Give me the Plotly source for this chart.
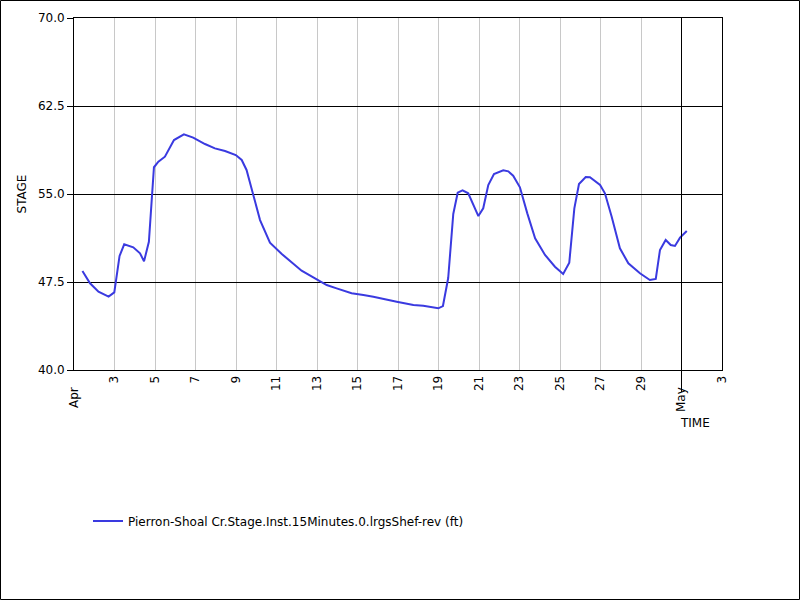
import plotly.graph_objects as go

times = [
    "2024-04-01 10:00", "2024-04-01 19:00", "2024-04-02 05:00", "2024-04-02 17:00", "2024-04-02 23:45",
    "2024-04-03 06:00", "2024-04-03 11:30", "2024-04-03 22:15", "2024-04-04 06:15", "2024-04-04 11:00",
    "2024-04-04 16:45", "2024-04-04 22:45", "2024-04-05 04:00", "2024-04-05 11:45", "2024-04-05 22:30",
    "2024-04-06 10:15", "2024-04-06 21:15", "2024-04-07 11:15", "2024-04-07 23:00", "2024-04-08 11:00",
    "2024-04-08 23:45", "2024-04-09 06:45", "2024-04-09 12:30", "2024-04-09 20:15", "2024-04-10 04:30",
    "2024-04-10 16:15", "2024-04-11 06:15", "2024-04-12 05:45", "2024-04-12 23:45", "2024-04-13 11:30",
    "2024-04-13 23:15", "2024-04-14 17:00", "2024-04-15 07:00", "2024-04-15 18:45", "2024-04-16 22:30",
    "2024-04-17 18:15", "2024-04-18 06:00", "2024-04-18 23:45", "2024-04-19 05:15", "2024-04-19 11:30",
    "2024-04-19 17:30", "2024-04-19 22:45", "2024-04-20 04:30", "2024-04-20 11:15", "2024-04-20 23:15",
    "2024-04-21 05:00", "2024-04-21 11:00", "2024-04-21 17:45", "2024-04-22 04:45", "2024-04-22 10:45",
    "2024-04-22 16:30", "2024-04-23 00:30", "2024-04-23 09:15", "2024-04-23 18:30", "2024-04-24 06:15",
    "2024-04-24 18:00", "2024-04-25 03:45", "2024-04-25 11:00", "2024-04-25 17:00", "2024-04-25 22:30",
    "2024-04-26 06:30", "2024-04-26 11:30", "2024-04-26 23:30", "2024-04-27 05:15", "2024-04-27 13:15",
    "2024-04-27 23:00", "2024-04-28 09:00", "2024-04-28 22:45", "2024-04-29 10:30", "2024-04-29 17:30",
    "2024-04-29 22:30", "2024-04-30 05:15", "2024-04-30 11:15", "2024-04-30 16:15", "2024-04-30 22:15",
    "2024-05-01 06:15",
]
stage = [
    48.44, 47.39, 46.67, 46.25, 46.62,
    49.72, 50.71, 50.46, 49.95, 49.26,
    50.93, 57.28, 57.75, 58.18, 59.60,
    60.09, 59.80, 59.26, 58.89, 58.66,
    58.32, 57.90, 57.05, 55.06, 52.78,
    50.85, 49.89, 48.46, 47.73, 47.24,
    46.96, 46.54, 46.39, 46.25, 45.82,
    45.54, 45.48, 45.26, 45.45, 47.84,
    53.30, 55.11, 55.31, 55.06, 53.12,
    53.78, 55.77, 56.70, 57.02, 56.93,
    56.56, 55.57, 53.35, 51.22, 49.80,
    48.80, 48.18, 49.15, 53.78, 55.85,
    56.45, 56.43, 55.77, 55.06, 53.07,
    50.37, 49.09, 48.24, 47.67, 47.76,
    50.23, 51.08, 50.65, 50.57, 51.28,
    51.85,
]

series_name = "Pierron-Shoal Cr.Stage.Inst.15Minutes.0.lrgsShef-rev (ft)"
x_tick_vals = ["2024-04-01", "2024-04-03", "2024-04-05", "2024-04-07", "2024-04-09", "2024-04-11",
               "2024-04-13", "2024-04-15", "2024-04-17", "2024-04-19", "2024-04-21", "2024-04-23",
               "2024-04-25", "2024-04-27", "2024-04-29", "2024-05-01", "2024-05-03"]
x_tick_text = ["Apr", "3", "5", "7", "9", "11", "13", "15", "17", "19", "21", "23",
               "25", "27", "29", "May", "3"]
y_tick_vals = [40.0, 47.5, 55.0, 62.5, 70.0]

FONT = "DejaVu Sans"
PAD = "\u00a0" * 3

ticktext = [t + PAD if t in ("Apr", "May") else t for t in x_tick_text]

fig = go.Figure()
fig.add_trace(go.Scatter(x=times, y=stage, mode="lines", name=series_name,
                         line=dict(color="#3a3ae0", width=2), showlegend=True))

L, R, T, B = 74, 78, 18, 230
PW, PH = 800 - L - R, 600 - T - B

fig.update_layout(
    width=800, height=600,
    margin=dict(l=L, r=R, t=T, b=B, pad=0),
    paper_bgcolor="white", plot_bgcolor="white",
    font=dict(family=FONT, size=12, color="black"),
    showlegend=True,
    legend=dict(orientation="h", x=(88 - L) / PW, xanchor="left",
                y=-(521 - (T + PH)) / PH, yanchor="middle",
                itemwidth=30, font=dict(size=12, family=FONT),
                bgcolor="rgba(0,0,0,0)"),
    xaxis=dict(type="date", range=["2024-04-01", "2024-05-03"],
               tickvals=x_tick_vals, ticktext=ticktext, tickangle=-90,
               ticks="", showgrid=True, gridcolor="#c8c8c8", gridwidth=1,
               showline=True, linecolor="black", linewidth=1, mirror=True,
               zeroline=False, tickfont=dict(size=12, family=FONT)),
    yaxis=dict(range=[40, 70], tickvals=y_tick_vals, tickformat=".1f",
               ticks="outside", ticklen=6, tickcolor="black", tickwidth=1,
               showgrid=True, gridcolor="black", gridwidth=1,
               showline=True, linecolor="black", linewidth=1, mirror=True,
               zeroline=False, tickfont=dict(size=12, family=FONT),
               title=dict(text="STAGE", font=dict(size=12, family=FONT), standoff=8)),
)

# May 1 boundary line, extending below the axis
fig.add_shape(type="line", xref="x", yref="paper", x0="2024-05-01", x1="2024-05-01",
              y0=-22 / PH, y1=1, line=dict(color="black", width=1))

fig.add_annotation(text="TIME", xref="paper", yref="paper",
                   x=(695 - L) / PW, y=-(423 - (T + PH)) / PH,
                   showarrow=False, xanchor="center", yanchor="middle",
                   font=dict(size=12, family=FONT))

# outer image border
fig.add_shape(type="rect", xref="paper", yref="paper",
              x0=(0.5 - L) / PW, x1=(799.5 - L) / PW,
              y0=-(599.5 - (T + PH)) / PH, y1=((T + PH) - 0.5) / PH,
              line=dict(color="black", width=1), fillcolor="rgba(0,0,0,0)", layer="below")

fig.write_html("out.html", config={"displayModeBar": False},
               post_script="document.body.style.margin='0';document.body.style.overflow='hidden';")
